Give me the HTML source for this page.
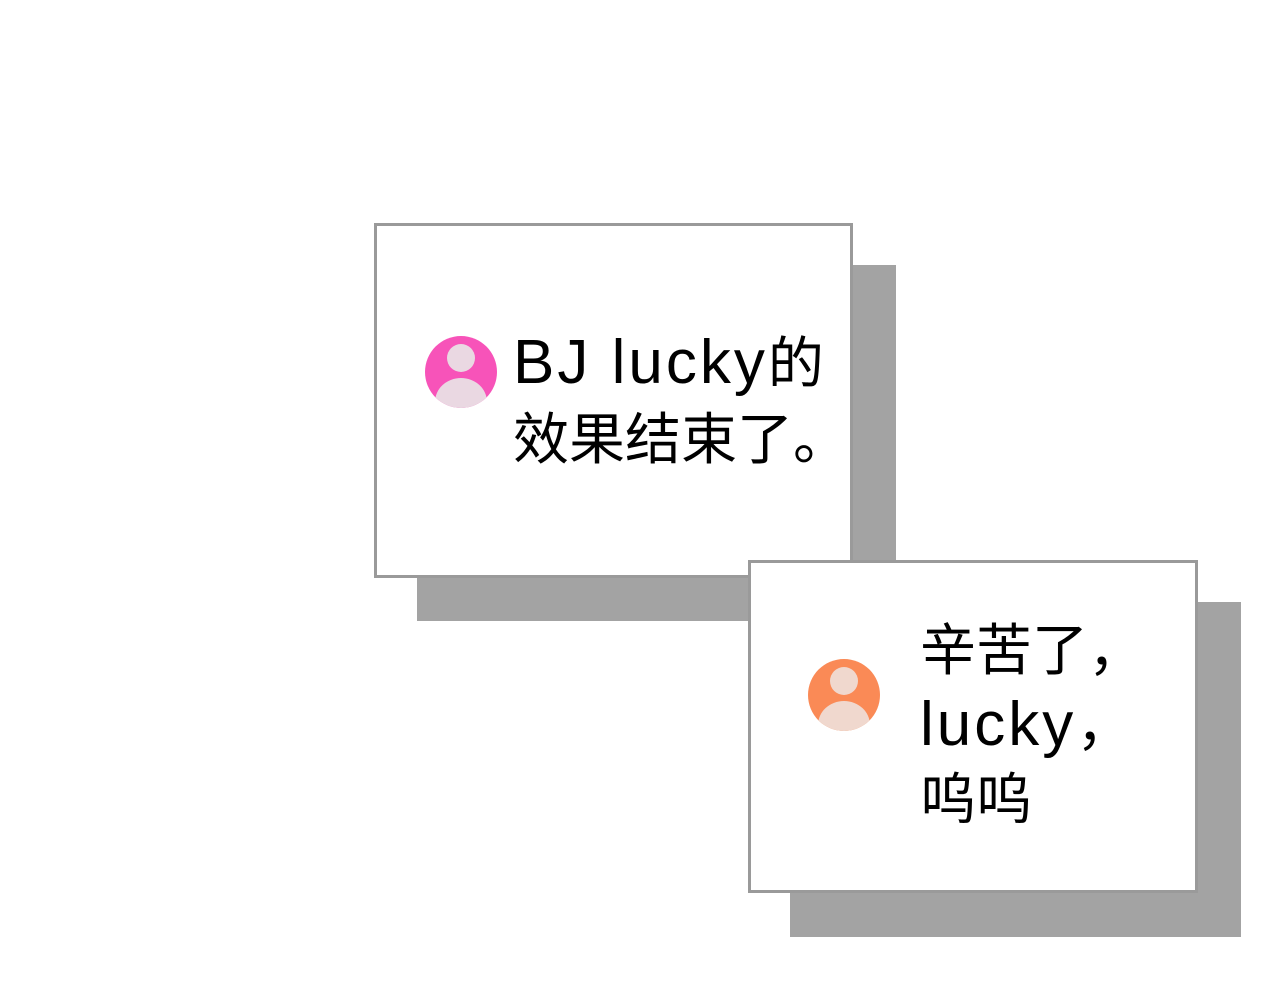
<!DOCTYPE html>
<html><head><meta charset="utf-8"><style>
body{margin:0;width:1280px;height:1000px;background:#fff;position:relative;overflow:hidden;font-family:"Liberation Sans","Noto Sans CJK SC",sans-serif;}
.sh{position:absolute;background:#a3a3a3;}
.box{position:absolute;background:#fff;border:3px solid #9a9a9a;box-sizing:border-box;}
.av{position:absolute;width:72px;height:72px;border-radius:50%;overflow:hidden;}
.av .h{position:absolute;left:22px;top:8px;width:28px;height:28px;border-radius:50%;background:#ead8e2;}
.av .b{position:absolute;left:10px;top:42px;width:52px;height:48px;border-radius:50%;background:#ead8e2;}
.t{position:absolute;font-size:56px;line-height:76px;color:#000;white-space:nowrap;}
.l{font-size:62px;letter-spacing:3px;}
</style></head><body>
<div class="sh" style="left:417px;top:265px;width:479px;height:356px"></div>
<div class="box" style="left:374px;top:223px;width:479px;height:355px"></div>
<div class="av" style="left:425px;top:336px;background:#f753b9"><div class="h"></div><div class="b"></div></div>
<div class="t" style="left:513px;top:325px"><span class="l">BJ lucky</span>的<br>效果结束了。</div>
<div class="sh" style="left:790px;top:602px;width:451px;height:335px"></div>
<div class="box" style="left:748px;top:560px;width:450px;height:333px"></div>
<div class="av" style="left:808px;top:659px;background:#fa8a56"><div class="h" style="background:#f0d8ce"></div><div class="b" style="background:#f0d8ce"></div></div>
<div class="t" style="left:920px;top:614px;line-height:74px">辛苦了，<br><span class="l">lucky</span>，<br>呜呜</div>
</body></html>
